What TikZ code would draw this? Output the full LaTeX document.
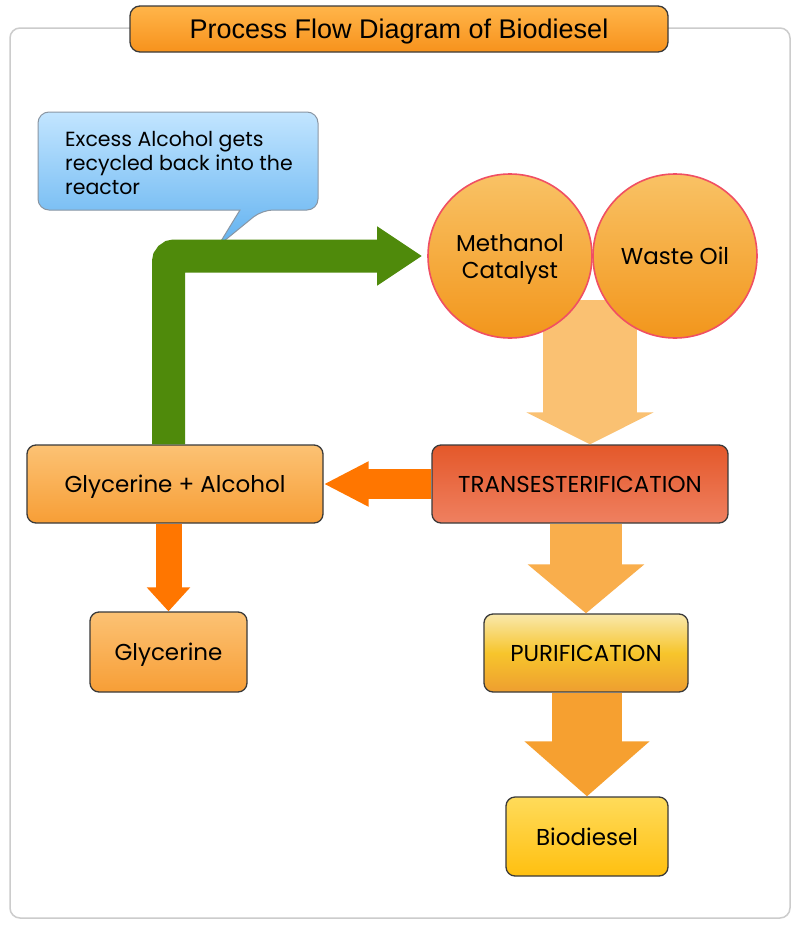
\documentclass[tikz,border=0pt]{standalone}
\usepackage{fontspec}
\setmainfont{Poppins}
\newfontfamily\titlefont{Liberation Sans}
\usetikzlibrary{arrows.meta,calc}
\definecolor{framec}{HTML}{CCCCCC}
\definecolor{boxline}{HTML}{3A3A3A}
\definecolor{titletop}{HTML}{FFB54A}
\definecolor{titlebot}{HTML}{F7921C}
\definecolor{calltop}{HTML}{C2E5FF}
\definecolor{callbot}{HTML}{62B2F0}
\definecolor{callline}{HTML}{8A96A3}
\definecolor{circtop}{HTML}{F9C265}
\definecolor{circbot}{HTML}{F2961C}
\definecolor{circline}{HTML}{F04F63}
\definecolor{greenc}{HTML}{4F8A0B}
\definecolor{orangearr}{HTML}{FF7600}
\definecolor{lightarr}{HTML}{FAC172}
\definecolor{arrtwo}{HTML}{F9AE4C}
\definecolor{arrthree}{HTML}{F6A030}
\definecolor{gatop}{HTML}{FCC274}
\definecolor{gabot}{HTML}{F79E36}
\definecolor{trtop}{HTML}{E4582A}
\definecolor{trbot}{HTML}{EF8060}
\definecolor{purtop}{HTML}{F9E8AC}
\definecolor{purmid}{HTML}{F7C52C}
\definecolor{purbot}{HTML}{EE9E30}
\definecolor{biotop}{HTML}{FFDB5A}
\definecolor{biobot}{HTML}{FFC010}
\begin{document}
\begin{tikzpicture}[x=1pt,y=-1pt,
  box/.style={draw=boxline, line width=1.3pt, rounded corners=9pt, minimum height=78pt, inner sep=0pt, text depth=0pt, font=\fontsize{23}{27}\selectfont},
  circ/.style={circle, draw=circline, line width=1.6pt, minimum size=164pt, inner sep=0pt, text depth=0pt, top color=circtop, bottom color=circbot, align=center, font=\fontsize{23}{27}\selectfont}
]
\useasboundingbox (0,0) rectangle (800,926);
\fill[white] (0,0) rectangle (800,926);
% frame
\draw[framec, line width=1.5pt, rounded corners=10pt] (10,28) rectangle (790,918);
% title
\node[box, minimum width=538pt, minimum height=46pt, rounded corners=10pt, top color=titletop, bottom color=titlebot, font=\titlefont\fontsize{27}{30}\selectfont] (title) at (399,29) {Process Flow Diagram of Biodiesel};

% boxes
\node[box, minimum width=296pt, top color=gatop, bottom color=gabot] (ga) at (175,484) {Glycerine + Alcohol};
\node[box, minimum width=296pt, top color=trtop, bottom color=trbot] (trans) at (580,484) {TRANSESTERIFICATION};

% callout
\draw[callline, line width=1pt, top color=calltop, bottom color=callbot, rounded corners=11pt]
  (38,160) -- (38,112) -- (318,112) -- (318,210) -- (262,210) [sharp corners] -- (218,246) -- (240,210) [rounded corners=11pt] -- (38,210) -- cycle;
\node[anchor=north west, align=left, inner sep=0pt, font=\fontsize{20.5}{24}\selectfont] (calltext) at (65,131) {Excess Alcohol gets\\recycled back into the\\reactor};

% feed arrow and circles
\coordinate (mid) at (590,300);
\draw[lightarr, line width=94pt, -{Triangle[width=126pt,length=32pt]}] (mid) -- (mid |- trans.north);
\node[circ] (meth) at (510,256) {Methanol\\Catalyst};
\node[circ] (waste) at (675,256) {Waste Oil};
% green recycle arrow
\draw[greenc, line width=33pt, rounded corners=6pt, -{Triangle[width=56pt,length=45pt]}] ([xshift=-6.5pt]ga.north) |- ([xshift=-5pt]meth.west);

% other boxes
\node[box, minimum width=157pt, minimum height=80pt, top color=gatop, bottom color=gabot] (gly) at (168.5,652) {Glycerine};
\node[box, minimum width=204pt, top color=purtop, bottom color=purbot, middle color=purmid] (pur) at (586,653) {PURIFICATION};
\node[box, minimum width=162pt, minimum height=79pt, top color=biotop, bottom color=biobot] (bio) at (587,836.5) {Biodiesel};

% arrows
\draw[orangearr, line width=30pt, -{Triangle[width=42pt,length=45pt]}] (trans.west) -- (ga.east);
\draw[orangearr, line width=26pt, -{Triangle[width=42pt,length=24pt]}] ([xshift=-6.5pt]ga.south) -- (gly.north);
\draw[arrtwo, line width=72pt, -{Triangle[width=114pt,length=49pt]}] (trans.south -| pur.north) -- (pur.north);
\draw[arrthree, line width=70pt, -{Triangle[width=122pt,length=55pt]}] (pur.south -| bio.north) -- (bio.north);
\end{tikzpicture}
\end{document}
